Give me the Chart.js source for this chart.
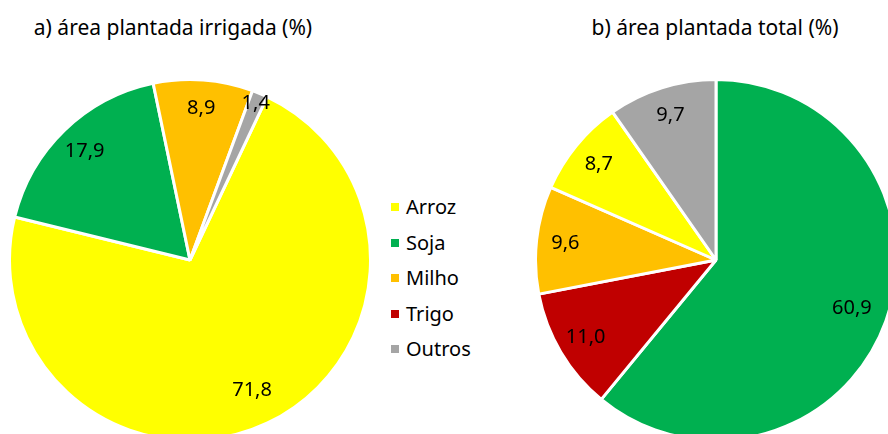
<!DOCTYPE html>
<html lang="pt">
<head>
<meta charset="utf-8">
<script src="https://cdn.jsdelivr.net/npm/chart.js@4/dist/chart.umd.min.js"></script>
<style>
  html, body { margin: 0; padding: 0; background: #fff; }
  body { width: 888px; height: 434px; overflow: hidden; position: relative;
         font-family: "Noto Sans", "Open Sans", sans-serif; color: #000; }
  .titulo { position: absolute; top: 13px; font-size: 21px; white-space: nowrap;
            transform: translateX(-50%); }
  .pizza { position: absolute; top: 78px; }
  #legenda { position: absolute; left: 391px; top: 193px; list-style: none;
             margin: 0; padding: 0; font-size: 20px; }
  #legenda li { height: 35.5px; line-height: 28px; white-space: nowrap; }
  #legenda span { display: inline-block; width: 8px; height: 8px; margin-right: 7px;
                  vertical-align: 3px; }
</style>
</head>
<body>
<div class="titulo" style="left:173px">a) área plantada irrigada (%)</div>
<div class="titulo" style="left:715px">b) área plantada total (%)</div>
<canvas id="irrigada" class="pizza" width="364" height="364" style="left:8px"></canvas>
<canvas id="total" class="pizza" width="364" height="364" style="left:534px"></canvas>
<ul id="legenda"></ul>

<script>
(function() {
  "use strict";

  // culturas e cores da legenda
  var culturas = ['Arroz', 'Soja', 'Milho', 'Trigo', 'Outros'];
  var cores = ['#FFFF00', '#00B050', '#FFC000', '#C00000', '#A5A5A5'];

  // a) área plantada irrigada (%)
  var irrigadaCulturas = ['Arroz', 'Soja', 'Milho', 'Outros'];
  var irrigadaValores = [71.8, 17.9, 8.9, 1.4];

  // b) área plantada total (%)
  var totalCulturas = ['Soja', 'Trigo', 'Milho', 'Arroz', 'Outros'];
  var totalValores = [60.9, 11.0, 9.6, 8.7, 9.7];

  function corDe(nome) {
    return cores[culturas.indexOf(nome)];
  }

  // rótulos de valor dentro de cada fatia
  var rotulos = {
    id: 'rotulos',
    afterDatasetsDraw: function(chart) {
      var ctx = chart.ctx;
      var meta = chart.getDatasetMeta(0);
      var valores = chart.data.datasets[0].data;
      ctx.save();
      ctx.font = '20px "Noto Sans", "Open Sans", sans-serif';
      ctx.fillStyle = '#000';
      ctx.textAlign = 'center';
      ctx.textBaseline = 'middle';
      meta.data.forEach(function(arc, i) {
        var p = arc.getProps(['x', 'y', 'startAngle', 'endAngle', 'outerRadius'], true);
        var meio = (p.startAngle + p.endAngle) / 2;
        // fatias grandes: rótulo um pouco mais para dentro
        var f = valores[i] < 3 ? 0.94 : (valores[i] > 50 ? 0.8 : 0.84);
        var px = p.x + Math.cos(meio) * p.outerRadius * f;
        var py = p.y + Math.sin(meio) * p.outerRadius * f;
        ctx.fillText(valores[i].toFixed(1).replace('.', ','), px, py);
      });
      ctx.restore();
    }
  };

  function pizza(id, nomes, valores, rotacao) {
    return new Chart(document.getElementById(id), {
      type: 'pie',
      data: {
        labels: nomes,
        datasets: [{
          data: valores,
          backgroundColor: nomes.map(corDe),
          borderColor: '#FFFFFF',
          borderWidth: 3
        }]
      },
      options: {
        responsive: false,
        animation: false,
        rotation: rotacao,
        layout: { padding: 0 },
        plugins: {
          legend: { display: false },
          tooltip: { enabled: false }
        }
      },
      plugins: [rotulos]
    });
  }

  pizza('irrigada', irrigadaCulturas, irrigadaValores, 25.3);
  pizza('total', totalCulturas, totalValores, 0);

  // legenda comum às duas pizzas
  var lista = document.getElementById('legenda');
  culturas.forEach(function(nome, i) {
    var li = document.createElement('li');
    var marca = document.createElement('span');
    marca.style.background = cores[i];
    li.appendChild(marca);
    li.appendChild(document.createTextNode(nome));
    lista.appendChild(li);
  });
})();
</script>
</body>
</html>
